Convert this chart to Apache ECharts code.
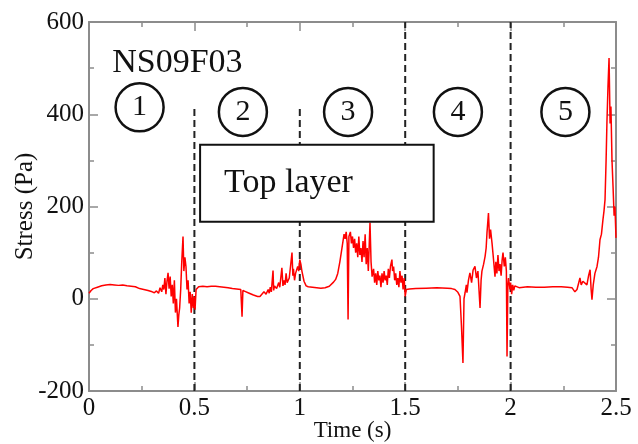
<!DOCTYPE html>
<html>
<head>
<meta charset="utf-8">
<script src="https://cdn.jsdelivr.net/npm/echarts@6/dist/echarts.min.js"></script>
<style>html,body{margin:0;padding:0;background:#fff}#c{width:638px;height:444px}</style>
</head>
<body>
<div id="c"></div>
<script>
// [time (s), stress (Pa)], one array per region
const region1 = [[0,12],[0.01,18],[0.02,22],[0.04,25],[0.06,28],[0.08,30],[0.10,31],[0.12,30],[0.14,29],[0.16,30],[0.18,28],[0.20,27],[0.22,26],[0.24,22],[0.26,20],[0.28,18],[0.30,15],[0.31,13],[0.32,17],[0.33,12],[0.337,24],[0.345,15],[0.35,30],[0.355,20],[0.36,45],[0.365,10],[0.37,38],[0.375,56],[0.38,22],[0.385,48],[0.39,5],[0.395,30],[0.40,-10],[0.405,40],[0.41,-30],[0.415,0],[0.422,-61],[0.426,-35],[0.43,-20],[0.435,20],[0.44,80],[0.446,135],[0.45,60],[0.455,90],[0.46,70],[0.465,20],[0.47,40],[0.475,-10],[0.48,15],[0.485,-30],[0.49,10],[0.495,-20],[0.50,5],[0.503,-24],[0.508,20]];
const region2 = [[0.515,18],[0.52,26],[0.54,27],[0.56,26],[0.58,27],[0.60,27],[0.62,26],[0.64,25],[0.66,24],[0.68,22],[0.70,21],[0.72,20],[0.726,-39],[0.73,18],[0.74,16],[0.76,12],[0.78,8],[0.80,5],[0.811,5],[0.82,8],[0.83,15],[0.84,10],[0.85,20],[0.855,12],[0.86,25],[0.865,15],[0.873,61],[0.876,18],[0.88,28],[0.89,22],[0.90,35],[0.905,25],[0.915,67],[0.92,28],[0.925,40],[0.93,30],[0.935,55],[0.94,35],[0.95,45],[0.963,100],[0.967,50],[0.97,65],[0.975,40],[0.98,55],[0.99,70],[0.995,60],[1.0,85]];
const region3 = [[1.005,75],[1.01,60],[1.02,38],[1.03,28],[1.04,26],[1.06,25],[1.08,24],[1.10,23],[1.12,24],[1.14,27],[1.16,36],[1.17,42],[1.18,55],[1.19,80],[1.20,110],[1.205,125],[1.21,140],[1.215,130],[1.22,145],[1.225,120],[1.229,-45],[1.233,135],[1.24,145],[1.245,120],[1.25,135],[1.255,110],[1.26,130],[1.265,100],[1.27,120],[1.275,90],[1.28,135],[1.285,95],[1.29,110],[1.295,80],[1.30,125],[1.305,90],[1.31,140],[1.315,75],[1.32,110],[1.325,60],[1.333,165],[1.338,80],[1.343,48],[1.35,65],[1.355,35],[1.36,55],[1.365,30],[1.37,60],[1.375,40],[1.38,50],[1.385,25],[1.39,55],[1.395,35],[1.40,60],[1.405,40],[1.41,50],[1.415,30],[1.42,65],[1.425,45],[1.43,70],[1.437,85],[1.44,60],[1.445,70],[1.45,40],[1.455,55],[1.46,30],[1.465,45],[1.47,25],[1.475,60],[1.48,35],[1.485,50],[1.49,20],[1.495,45],[1.50,5]];
const region4 = [[1.505,20],[1.51,22],[1.52,21],[1.55,22],[1.60,23],[1.65,24],[1.70,23],[1.72,22],[1.736,20],[1.75,14],[1.76,5],[1.767,-60],[1.774,-139],[1.779,0],[1.784,13],[1.79,30],[1.793,13],[1.80,40],[1.807,56],[1.815,35],[1.822,62],[1.831,70],[1.838,45],[1.845,60],[1.855,-20],[1.86,40],[1.864,60],[1.872,75],[1.879,92],[1.884,110],[1.888,143],[1.895,186],[1.90,130],[1.905,150],[1.912,120],[1.918,90],[1.926,48],[1.93,80],[1.935,55],[1.94,95],[1.945,60],[1.95,75],[1.955,50],[1.96,85],[1.964,100],[1.97,70],[1.975,90],[1.98,60],[1.983,-125],[1.987,30],[1.99,45],[1.997,20]];
const region5 = [[2.0,35],[2.005,10],[2.01,30],[2.015,18],[2.02,28],[2.04,24],[2.08,26],[2.12,25],[2.16,25],[2.20,26],[2.24,26],[2.27,25],[2.291,24],[2.305,15],[2.315,20],[2.329,45],[2.335,30],[2.343,38],[2.35,40],[2.362,30],[2.37,50],[2.377,63],[2.382,20],[2.386,-2],[2.392,30],[2.40,55],[2.41,70],[2.417,90],[2.424,128],[2.431,140],[2.438,171],[2.443,190],[2.448,215],[2.453,300],[2.457,382],[2.462,460],[2.467,522],[2.472,380],[2.476,417],[2.481,300],[2.486,243],[2.491,180],[2.495,200],[2.5,132]];
// Vertical dashed dividers
const dividerTime = [0.5, 1.0, 1.5, 2.0];
const dividerTop = [420, 415, 600, 600];
const dividerBottom = -200;
// Region markers
const regionLabels = ['1', '2', '3', '4', '5'];
const regionTime = [0.24, 0.73, 1.229, 1.75, 2.26];
const regionStress = [415, 405, 405, 405, 405];
// Annotations
const sampleName = 'NS09F03';
const sampleNamePos = [0.11, 510];
const boxText = 'Top layer';
const boxTime = [0.527, 1.635];
const boxStress = [167, 334];

const xTicks = {min: 0, max: 2.5, interval: 0.5};
const yTicks = {min: -200, max: 600, interval: 200};

const FONT = 'Liberation Serif';
const AX = '#8c8c8c';

const chart = echarts.init(document.getElementById('c'));
const lineData = [].concat(region1, region2, region3, region4, region5);

const dividerSeries = dividerTime.map((t, i) => ({
  type: 'line', z: 2, symbol: 'none', silent: true,
  data: [[t, dividerBottom], [t, dividerTop[i]]],
  lineStyle: {color: '#222', width: 2, type: [7, 4]}
}));

const axisCommon = () => ({
  axisLine: {show: true, onZero: false, lineStyle: {color: AX, width: 2}},
  axisTick: {show: true, inside: true, length: 9, lineStyle: {color: AX, width: 1.5}},
  minorTick: {show: true, splitNumber: 2, length: 5, lineStyle: {color: AX, width: 1.5}},
  splitLine: {show: false},
});

chart.setOption({
  animation: false,
  backgroundColor: '#fff',
  grid: {left: 89, right: 22, top: 22, bottom: 53, containLabel: false, outerBoundsMode: 'none'},
  xAxis: [
    Object.assign({type: 'value', position: 'bottom', min: xTicks.min, max: xTicks.max, interval: xTicks.interval,
      axisLabel: {color: '#111', fontFamily: FONT, fontSize: 25, margin: 5},
      name: 'Time (s)', nameLocation: 'middle', nameGap: 28, nameMoveOverlap: false,
      nameTextStyle: {color: '#111', fontFamily: FONT, fontSize: 23, verticalAlign: 'top', lineHeight: 23}}, axisCommon()),
    Object.assign({type: 'value', position: 'top', min: xTicks.min, max: xTicks.max, interval: xTicks.interval,
      axisLabel: {show: false}}, axisCommon())
  ],
  yAxis: [
    Object.assign({type: 'value', position: 'left', min: yTicks.min, max: yTicks.max, interval: yTicks.interval,
      axisLabel: {color: '#111', fontFamily: FONT, fontSize: 25, margin: 5},
      name: 'Stress (Pa)', nameLocation: 'middle', nameGap: 51, nameMoveOverlap: false,
      nameTextStyle: {color: '#111', fontFamily: FONT, fontSize: 25}}, axisCommon()),
    Object.assign({type: 'value', position: 'right', min: yTicks.min, max: yTicks.max, interval: yTicks.interval,
      axisLabel: {show: false}}, axisCommon())
  ],
  series: [
    {
      type: 'line', z: 3, symbol: 'none', silent: true,
      data: lineData,
      lineStyle: {color: '#ff0000', width: 1.5}
    },
    ...dividerSeries,
    {
      type: 'custom', z: 5, silent: true,
      encode: {x: [0, 1], y: [2, 3]},
      data: [[boxTime[0], boxTime[1], boxStress[0], boxStress[1]]],
      renderItem: (params, api) => {
        const p0 = api.coord([api.value(0), api.value(3)]);
        const p1 = api.coord([api.value(1), api.value(2)]);
        return {
          type: 'group',
          children: [
            {type: 'rect', shape: {x: p0[0], y: p0[1], width: p1[0] - p0[0], height: p1[1] - p0[1]},
              style: {fill: '#fff', stroke: '#111', lineWidth: 2}},
            {type: 'text', style: {text: boxText, x: p0[0] + 24, y: (p0[1] + p1[1]) / 2,
              verticalAlign: 'middle', align: 'left', fontFamily: FONT, fontSize: 34, fill: '#111'}}
          ]
        };
      }
    },
    {
      type: 'scatter', z: 6, silent: true,
      symbol: 'circle', symbolSize: 48,
      itemStyle: {color: '#fff', borderColor: '#111', borderWidth: 2.5, opacity: 1},
      label: {show: true, position: 'inside', color: '#111', fontFamily: FONT, fontSize: 30,
        formatter: p => regionLabels[p.dataIndex]},
      data: regionTime.map((t, i) => [t, regionStress[i]])
    },
    {
      type: 'scatter', z: 6, silent: true, symbolSize: 0,
      itemStyle: {opacity: 1},
      label: {show: true, position: 'right', distance: 0, color: '#111', fontFamily: FONT, fontSize: 34,
        formatter: () => sampleName},
      data: [sampleNamePos]
    }
  ]
});
</script>
</body>
</html>
